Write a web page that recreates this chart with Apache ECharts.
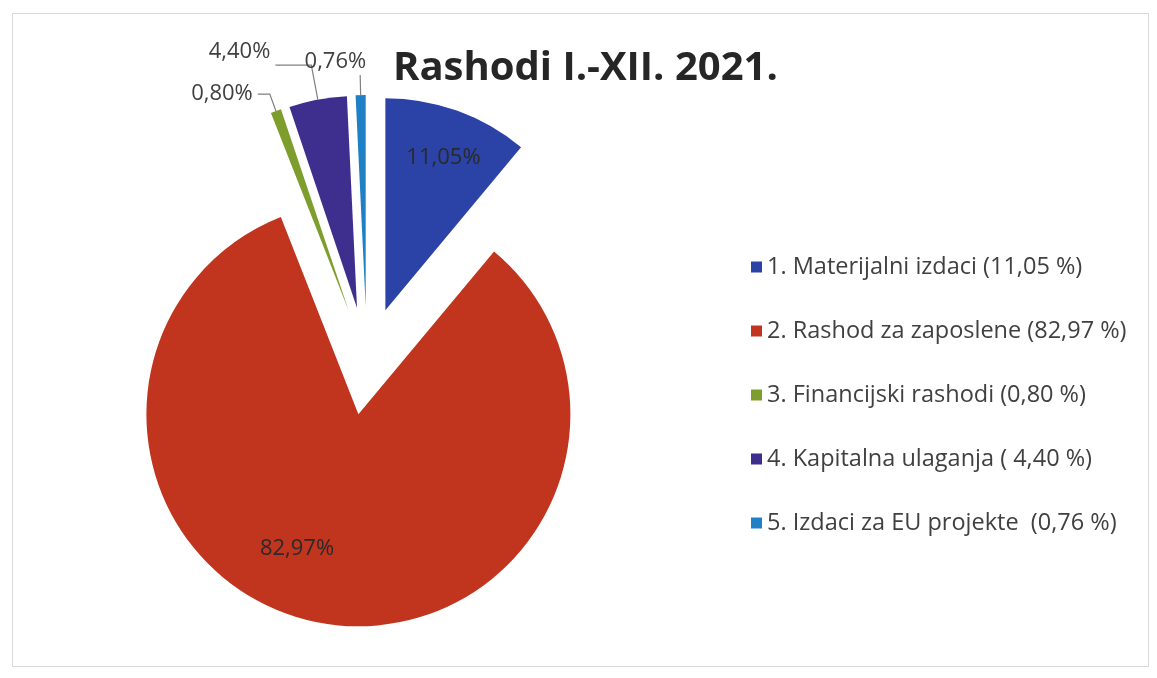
<!DOCTYPE html>
<html>
<head>
<meta charset="utf-8">
<script src="https://cdn.jsdelivr.net/npm/echarts@6/dist/echarts.min.js"></script>
<style>
html,body{margin:0;padding:0;background:#fff;}
#frame{position:absolute;left:12px;top:13px;width:1137px;height:654px;border:1px solid #d9d9d9;box-sizing:border-box;}
#chart{position:absolute;left:0;top:0;width:1157px;height:678px;}
</style>
</head>
<body>
<div id="frame"></div>
<div id="chart"></div>
<script>
// ---- data ----
const categories = [
  '1. Materijalni izdaci (11,05 %)',
  '2. Rashod za zaposlene (82,97 %)',
  '3. Financijski rashodi (0,80 %)',
  '4. Kapitalna ulaganja ( 4,40 %)',
  '5. Izdaci za EU projekte  (0,76 %)'
];
const values = [11.05, 82.97, 0.80, 4.40, 0.76];
const colors = ['#2b42a6', '#c1351f', '#7d9d2c', '#3e2f8f', '#1f80c6'];
const titleText = 'Rashodi I.-XII. 2021.';

const insideIdx = [0, 1];
const labelShift = { 0: [21, -50], 1: [-44, 27], 3: [0, -13], 4: [0, -13] };
const lineLen = { 2: [18, 12], 3: [35, 36], 4: [20, 0] };

const FONT = 'Open Sans';
const chart = echarts.init(document.getElementById('chart'), null, { renderer: 'canvas' });

const data = values.map((v, i) => {
  const inside = insideIdx.includes(i);
  const label = inside
    ? { position: 'inside', color: '#2a2a2a', fontSize: 22 }
    : { position: 'outside', color: '#404040', fontSize: 22 };
  if (i === 4) {
    label.distanceToLabelLine = -6;
  }
  return {
    name: categories[i],
    value: v,
    selected: true,
    itemStyle: { color: colors[i] },
    label: label,
    labelLine: inside
      ? { show: false }
      : { show: true, length: lineLen[i][0], length2: lineLen[i][1], lineStyle: { color: '#808080', width: 1.2 } }
  };
});

chart.setOption({
  backgroundColor: 'transparent',
  animation: false,
  textStyle: { fontFamily: FONT },
  title: {
    text: titleText,
    left: 388,
    top: 44,
    textStyle: { fontFamily: FONT, fontSize: 40, fontWeight: 'bold', color: '#262626' }
  },
  legend: {
    orient: 'vertical',
    left: 746,
    top: 250,
    icon: 'rect',
    itemWidth: 11,
    itemHeight: 11,
    itemGap: 40,
    selectedMode: false,
    textStyle: { fontFamily: FONT, fontSize: 23.5, color: '#404040' },
    data: categories
  },
  series: [{
    type: 'pie',
    center: [367, 361],
    radius: 212,
    startAngle: 90,
    clockwise: true,
    selectedMode: 'multiple',
    selectedOffset: 54,
    avoidLabelOverlap: false,
    emphasis: { disabled: true },
    select: { itemStyle: {} },
    label: {
      fontFamily: FONT,
      formatter: p => p.value.toFixed(2).replace('.', ',') + '%'
    },
    labelLayout: function (params) {
      const s = labelShift[params.dataIndex];
      if (s) return { dx: s[0], dy: s[1] };
      return {};
    },
    data: data
  }]
});
</script>
</body>
</html>
